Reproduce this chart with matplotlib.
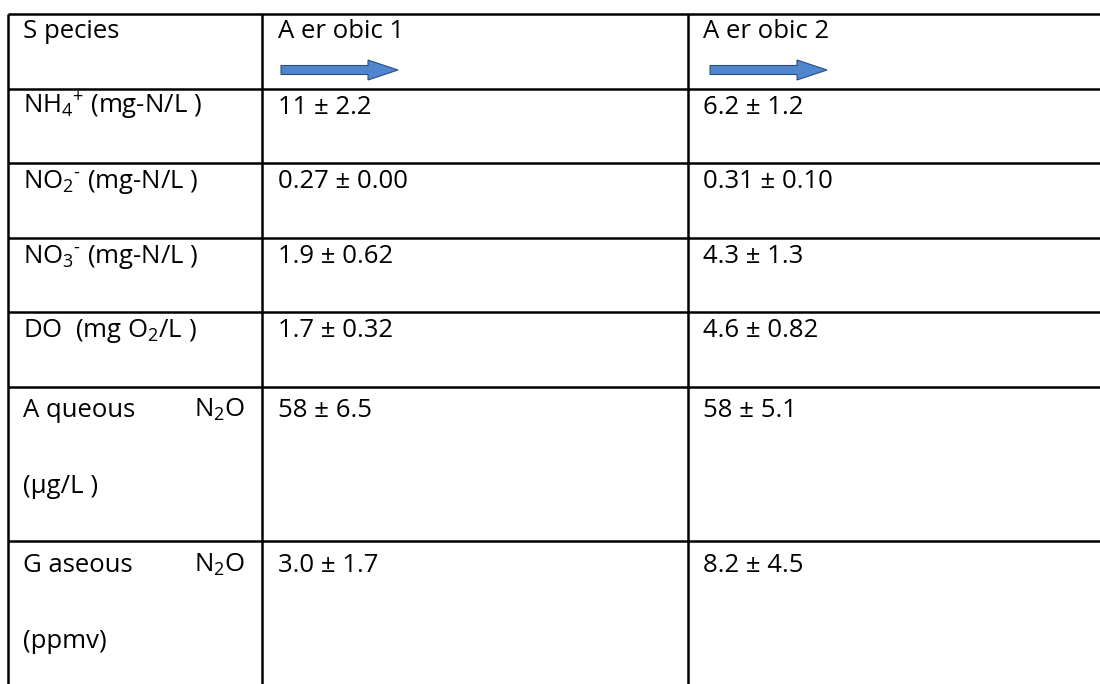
import matplotlib
matplotlib.use("Agg")
import matplotlib.pyplot as plt
from matplotlib.patches import FancyArrow

plt.rcParams['font.family'] = ['Open Sans', 'DejaVu Sans']
plt.rcParams['mathtext.fontset'] = 'custom'
plt.rcParams['mathtext.rm'] = 'Open Sans'
plt.rcParams['mathtext.it'] = 'Open Sans'
plt.rcParams['mathtext.bf'] = 'Open Sans'

# table content
header = ["S pecies", "A er obic 1", "A er obic 2"]
species = [
    ["NH$_4$$^{+}$ (mg-N/L )"],
    ["NO$_2$$^{\\text{-}}$ (mg-N/L )"],
    ["NO$_3$$^{\\text{-}}$ (mg-N/L )"],
    ["DO  (mg O$_2$/L )"],
    ["A queous", "(\u03bcg/L )"],
    ["G aseous", "(ppmv)"],
]
species_right = ["", "", "", "", "N$_2$O", "N$_2$O"]
aerobic1_mean = ["11", "0.27", "1.9", "1.7", "58", "3.0"]
aerobic1_sd = ["2.2", "0.00", "0.62", "0.32", "6.5", "1.7"]
aerobic2_mean = ["6.2", "0.31", "4.3", "4.6", "58", "8.2"]
aerobic2_sd = ["1.2", "0.10", "1.3", "0.82", "5.1", "4.5"]

# layout (pixels)
W, H = 1100, 684
row_lines = [14, 89, 163, 238, 312, 387, 541]
base_off = [25, 25, 25, 25, 30, 31]
col_lines = [8, 262, 688]
col_text = [23, 278, 703]
fs = 18.5

fig = plt.figure(figsize=(11, 6.84), dpi=100)
ax = fig.add_axes([0, 0, 1, 1])
ax.set_xlim(0, W)
ax.set_ylim(H, 0)
ax.axis('off')

lw = 1.8
ax.hlines(row_lines, col_lines[0], W, color='black', lw=lw)
ax.vlines(col_lines, row_lines[0], H, color='black', lw=lw)

# header
for x, t in zip(col_text, header):
    ax.text(x, row_lines[0] + 24, t, fontsize=fs, va='baseline', ha='left')

for x0 in [281, 710]:
    ax.add_patch(FancyArrow(x0, 70, 117, 0, width=9, head_width=20,
                            head_length=30, length_includes_head=True,
                            facecolor='#4F86CE', edgecolor='#2B4E7E', lw=0.8))

for i in range(len(species)):
    base = row_lines[i + 1] + base_off[i]
    for j, line in enumerate(species[i]):
        ax.text(col_text[0], base + j * 76, line, fontsize=fs, va='baseline', ha='left')
    if species_right[i]:
        ax.text(245, base, species_right[i], fontsize=fs, va='baseline', ha='right')
    ax.text(col_text[1], base, f"{aerobic1_mean[i]} \u00b1 {aerobic1_sd[i]}",
            fontsize=fs, va='baseline', ha='left')
    ax.text(col_text[2], base, f"{aerobic2_mean[i]} \u00b1 {aerobic2_sd[i]}",
            fontsize=fs, va='baseline', ha='left')

fig.savefig('out.png', dpi=100)
